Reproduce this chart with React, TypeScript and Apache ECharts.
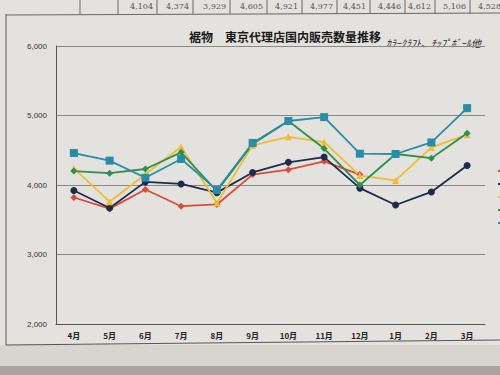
import React, { useEffect, useRef } from "react";
import * as echarts from "echarts";

const months = ["4月", "5月", "6月", "7月", "8月", "9月", "10月", "11月", "12月", "1月", "2月", "3月"];
const seriesNames = ["2014年度", "2015年度", "2016年度", "2017年度", "2018年度"];
const redData = [3820, 3660, 3935, 3695, 3720, 4150, 4220, 4340, 4150, null, null, null];
const navyData = [3920, 3670, 4045, 4015, 3890, 4180, 4326, 4402, 3955, 3712, 3900, 4280];
const yellowData = [4240, 3760, 4155, 4550, 3740, 4570, 4694, 4616, 4135, 4066, 4541, 4724];
const greenData = [4200, 4170, 4230, 4470, 3910, 4590, 4921, 4524, 4000, 4446, 4386, 4744];
const tealData = [4460, 4350, 4104, 4374, 3929, 4605, 4921, 4977, 4451, 4446, 4612, 5106];
const yTicks = { min: 2000, max: 6000, interval: 1000 };
const titleText = "裾物　東京代理店国内販売数量推移";
const noteText = "ｶﾗｰｸﾗﾌﾄ、ﾁｯﾌﾟﾎﾞｰﾙ他";

const colors = ["#dc4a3b", "#1e2b4a", "#f0bd34", "#2f8f4f", "#2a8ca6"];
const symbols = ["diamond", "circle", "triangle", "diamond", "rect"];

export default function App() {
  const ref = useRef<HTMLDivElement>(null);
  useEffect(() => {
    if (!ref.current) return;
    const chart = echarts.init(ref.current, null, { renderer: "svg" });
    const allData = [redData, navyData, yellowData, greenData, tealData];

    // table strip (teal values 6月..3月 and its average)
    const avg = Math.round(tealData.reduce((a, b) => a + b, 0) / tealData.length);
    const cellEdges = [118, 157, 193, 230, 267, 302, 337, 370, 405, 435, 470, 505];
    const cellVals = [...tealData.slice(2), avg];
    const tableGraphics: any[] = [];
    [80, ...cellEdges].forEach((x) => {
      tableGraphics.push({ type: "line", shape: { x1: x, y1: 0, x2: x, y2: 14 }, style: { stroke: "#666", lineWidth: 1 } });
    });
    cellVals.forEach((v, i) => {
      tableGraphics.push({
        type: "text",
        x: cellEdges[i + 1] - 4,
        y: 6,
        style: { text: v.toLocaleString("en-US"), fontSize: 8, fill: "#555", align: "right", verticalAlign: "middle", fontFamily: "DejaVu Serif" },
      });
    });

    chart.setOption({
      animation: false,
      backgroundColor: "#e4e2de",
      color: colors,
      grid: { left: 56, right: 15, top: 46, bottom: 51 },
      legend: {
        orient: "vertical",
        left: 493,
        top: 161,
        icon: "rect",
        itemWidth: 10,
        itemHeight: 2,
        itemGap: 3,
        formatter: () => " ",
        textStyle: { fontSize: 8, lineHeight: 10, color: "#333" },
        data: seriesNames,
      },
      xAxis: {
        type: "category",
        data: months,
        boundaryGap: true,
        axisLine: { show: true, lineStyle: { color: "#555", width: 1 } },
        axisTick: { show: false },
        axisLabel: { fontSize: 8, fontWeight: "bold", color: "#222", margin: 7, fontFamily: "Noto Sans CJK JP" },
      },
      yAxis: {
        type: "value",
        min: yTicks.min,
        max: yTicks.max,
        interval: yTicks.interval,
        axisLine: { show: true, lineStyle: { color: "#555", width: 1 } },
        axisTick: { show: false },
        splitLine: { lineStyle: { color: "#8a8886", width: 1 } },
        axisLabel: {
          fontSize: 8,
          color: "#333",
          margin: 9,
          fontFamily: "Liberation Sans",
          formatter: (v: number) => v.toLocaleString("en-US"),
        },
      },
      series: seriesNames.map((n, i) => ({
        name: n,
        type: "line",
        data: allData[i],
        symbol: symbols[i],
        symbolSize: i === 4 ? 8 : 7,
        lineStyle: { width: 1.8, color: colors[i] },
        itemStyle: { color: colors[i] },
        connectNulls: false,
      })),
      graphic: [
        { type: "rect", shape: { x: 0, y: 345, width: 500, height: 30 }, style: { fill: "#d8d5d0" }, z: -1 },
        { type: "rect", shape: { x: 0, y: 366, width: 500, height: 9 }, style: { fill: "#aaa59e" }, z: -1 },
        { type: "line", shape: { x1: 6, y1: 14, x2: 6, y2: 345 }, style: { stroke: "#555", lineWidth: 1 } },
        { type: "line", shape: { x1: 6, y1: 345, x2: 500, y2: 340 }, style: { stroke: "#555", lineWidth: 1 } },
        { type: "line", shape: { x1: 6, y1: 15, x2: 500, y2: 13 }, style: { stroke: "#666", lineWidth: 1 } },
        ...tableGraphics,
        {
          type: "text",
          x: 285,
          y: 36,
          style: { text: titleText, fontSize: 12, fontWeight: "bold", fill: "#1a1a1a", align: "center", verticalAlign: "middle", fontFamily: "Noto Sans CJK JP" },
        },
        {
          type: "text",
          x: 386,
          y: 42,
          style: { text: noteText, fontSize: 10, fontStyle: "italic", fill: "#222", align: "left", verticalAlign: "middle", fontFamily: "Noto Sans CJK JP" },
        },
      ],
    });
    return () => chart.dispose();
  }, []);
  return <div ref={ref} style={{ position: "absolute", left: 0, top: 0, width: 500, height: 375 }} />;
}
